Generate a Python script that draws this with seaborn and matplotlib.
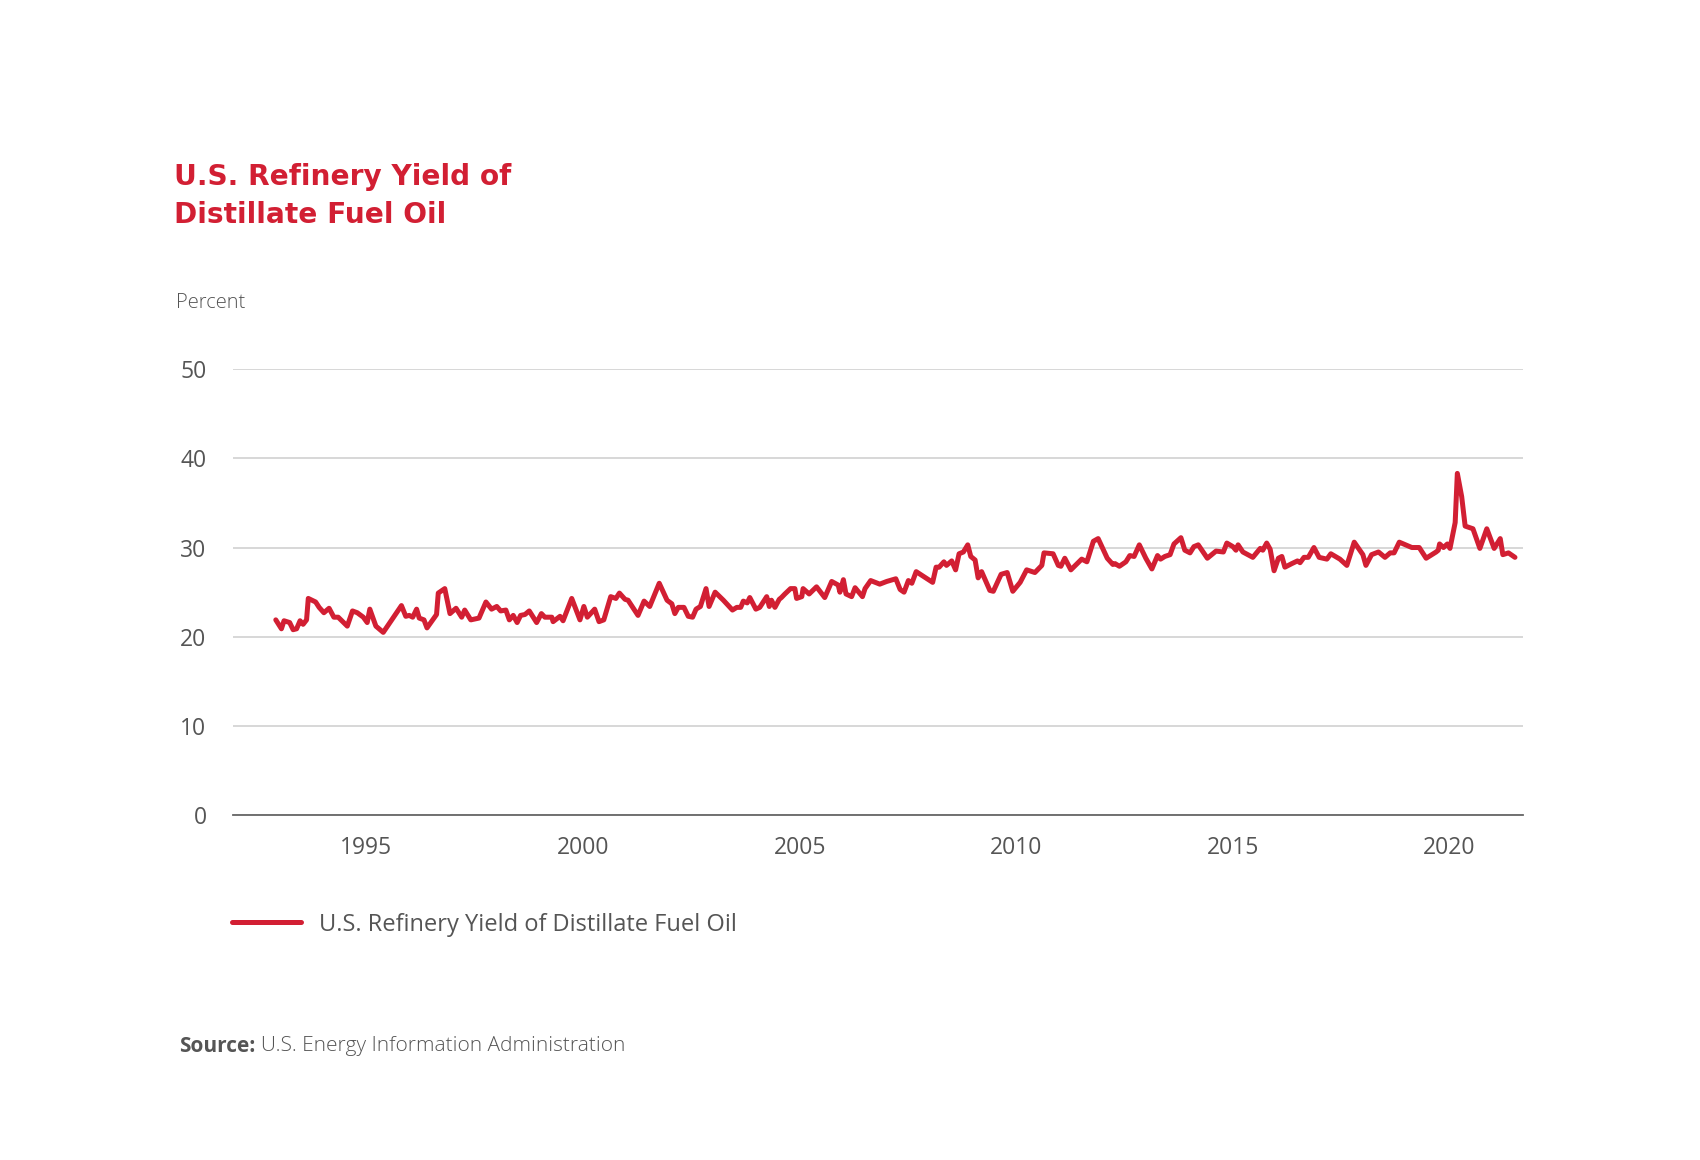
import pandas as pd
import numpy as np
import seaborn as sns
import matplotlib.pyplot as plt

# Datos (anio decimal, porcentaje)
years = [
    1992.91, 1993.04, 1993.10, 1993.23, 1993.31, 1993.39, 1993.47, 1993.54, 1993.62, 1993.66,
    1993.83, 1993.91, 1994.02, 1994.14, 1994.25, 1994.35, 1994.56, 1994.68, 1994.79, 1994.93,
    1995.02, 1995.08, 1995.22, 1995.39, 1995.81, 1995.91, 1995.99, 1996.07, 1996.16, 1996.22,
    1996.33, 1996.40, 1996.62, 1996.66, 1996.81, 1996.93, 1997.07, 1997.20, 1997.27, 1997.41,
    1997.60, 1997.76, 1997.89, 1998.01, 1998.10, 1998.22, 1998.30, 1998.39, 1998.48, 1998.56,
    1998.66, 1998.76, 1998.93, 1999.04, 1999.12, 1999.28, 1999.31, 1999.47, 1999.54, 1999.74,
    1999.93, 2000.02, 2000.10, 2000.27, 2000.37, 2000.48, 2000.64, 2000.76, 2000.84, 2000.97,
    2001.04, 2001.27, 2001.41, 2001.54, 2001.76, 2001.94, 2002.05, 2002.12, 2002.20, 2002.33,
    2002.43, 2002.53, 2002.61, 2002.71, 2002.84, 2002.91, 2003.05, 2003.24, 2003.45, 2003.55,
    2003.64, 2003.70, 2003.79, 2003.85, 2003.99, 2004.08, 2004.24, 2004.30, 2004.35, 2004.43,
    2004.53, 2004.58, 2004.66, 2004.79, 2004.89, 2004.93, 2005.05, 2005.08, 2005.22, 2005.39,
    2005.58, 2005.74, 2005.89, 2005.93, 2006.01, 2006.07, 2006.20, 2006.28, 2006.45, 2006.51,
    2006.64, 2006.85, 2007.01, 2007.22, 2007.32, 2007.41, 2007.51, 2007.59, 2007.69, 2008.07,
    2008.15, 2008.22, 2008.33, 2008.39, 2008.51, 2008.60, 2008.68, 2008.78, 2008.88, 2008.95,
    2009.05, 2009.12, 2009.20, 2009.39, 2009.47, 2009.65, 2009.79, 2009.92, 2010.09, 2010.24,
    2010.43, 2010.59, 2010.64, 2010.85, 2010.97, 2011.03, 2011.12, 2011.26, 2011.51, 2011.63,
    2011.78, 2011.89, 2012.10, 2012.23, 2012.28, 2012.38, 2012.53, 2012.62, 2012.72, 2012.84,
    2012.99, 2013.13, 2013.26, 2013.33, 2013.43, 2013.55, 2013.64, 2013.80, 2013.89, 2014.01,
    2014.10, 2014.20, 2014.41, 2014.61, 2014.78, 2014.86, 2015.00, 2015.07, 2015.12, 2015.23,
    2015.46, 2015.63, 2015.69, 2015.78, 2015.86, 2015.95, 2016.05, 2016.13, 2016.20, 2016.36,
    2016.49, 2016.55, 2016.64, 2016.74, 2016.87, 2016.99, 2017.17, 2017.26, 2017.40, 2017.47,
    2017.63, 2017.80, 2018.00, 2018.07, 2018.20, 2018.36, 2018.51, 2018.63, 2018.72, 2018.84,
    2019.13, 2019.30, 2019.46, 2019.69, 2019.74, 2019.77, 2019.86, 2019.95, 2020.01, 2020.13,
    2020.18, 2020.28, 2020.36, 2020.54, 2020.70, 2020.86, 2021.03, 2021.17, 2021.23, 2021.36,
    2021.51,
]
yield_pct = [
    21.9, 20.9, 21.8, 21.6, 20.8, 20.9, 21.8, 21.4, 21.9, 24.3,
    23.9, 23.3, 22.7, 23.2, 22.2, 22.2, 21.2, 22.9, 22.7, 22.2,
    21.6, 23.1, 21.2, 20.5, 23.5, 22.3, 22.4, 22.2, 23.1, 22.1,
    21.9, 21.0, 22.5, 24.9, 25.4, 22.6, 23.2, 22.2, 23.0, 21.9,
    22.1, 23.9, 23.1, 23.4, 22.9, 23.0, 21.9, 22.4, 21.6, 22.4,
    22.5, 22.9, 21.6, 22.6, 22.2, 22.2, 21.7, 22.3, 21.8, 24.3,
    21.9, 23.4, 22.2, 23.1, 21.7, 21.9, 24.5, 24.3, 24.9, 24.2,
    24.1, 22.4, 24.0, 23.4, 26.0, 24.1, 23.7, 22.6, 23.3, 23.3,
    22.3, 22.2, 23.1, 23.4, 25.4, 23.4, 25.0, 24.1, 23.0, 23.3,
    23.3, 24.0, 23.8, 24.4, 23.1, 23.3, 24.5, 23.4, 24.1, 23.3,
    24.2, 24.4, 24.8, 25.4, 25.4, 24.3, 24.5, 25.4, 24.8, 25.6,
    24.4, 26.2, 25.8, 25.0, 26.4, 24.8, 24.5, 25.5, 24.5, 25.4,
    26.3, 25.9, 26.2, 26.5, 25.3, 25.0, 26.3, 26.0, 27.3, 26.1,
    27.8, 27.8, 28.4, 28.0, 28.5, 27.5, 29.3, 29.5, 30.3, 29.0,
    28.6, 26.6, 27.3, 25.2, 25.1, 27.0, 27.2, 25.1, 26.1, 27.5,
    27.2, 28.0, 29.4, 29.3, 28.0, 27.9, 28.8, 27.5, 28.7, 28.4,
    30.7, 31.0, 28.8, 28.1, 28.2, 27.9, 28.4, 29.1, 29.0, 30.3,
    28.8, 27.6, 29.1, 28.7, 29.0, 29.2, 30.4, 31.1, 29.7, 29.4,
    30.1, 30.3, 28.8, 29.6, 29.5, 30.5, 30.1, 29.7, 30.3, 29.5,
    28.9, 29.9, 29.7, 30.5, 29.8, 27.4, 28.8, 29.0, 27.8, 28.2,
    28.5, 28.3, 28.9, 28.9, 30.0, 28.9, 28.7, 29.3, 28.9, 28.7,
    28.0, 30.6, 29.2, 28.0, 29.2, 29.5, 28.9, 29.4, 29.4, 30.6,
    30.0, 30.0, 28.8, 29.5, 29.7, 30.4, 30.0, 30.4, 29.9, 32.8,
    38.3, 35.7, 32.4, 32.1, 29.9, 32.1, 29.9, 31.0, 29.2, 29.4,
    28.9,
]
x_ticks = [1995, 2000, 2005, 2010, 2015, 2020]
y_ticks = [0, 10, 20, 30, 40, 50]

serie = 'U.S. Refinery Yield of Distillate Fuel Oil'
df = pd.DataFrame({'year': years, 'pct': yield_pct})

ROJO = '#d21f33'
GRIS = '#555555'

sns.set_style('white')
plt.rcParams['font.family'] = ['Open Sans', 'DejaVu Sans']

fig = plt.figure(figsize=(17, 11.6), dpi=100)
ax = fig.add_axes([0.137, 0.297, 0.759, 0.385])

sns.lineplot(data=df, x='year', y='pct', ax=ax, color=ROJO, linewidth=3.6,
             label=serie, solid_joinstyle='round')

ax.set_xlim(1991.92, 2021.70)
ax.set_ylim(0, 50)
ax.set_xticks(x_ticks)
ax.set_yticks(y_ticks)
ax.grid(axis='y', color='#d4d4d4', linewidth=1.3)
ax.set_axisbelow(True)
for s in ['top', 'right', 'left']:
    ax.spines[s].set_visible(False)
ax.spines['bottom'].set_color('#666666')
ax.spines['bottom'].set_linewidth(1.3)
ax.tick_params(axis='both', length=0, labelsize=16.5, labelcolor=GRIS)
ax.tick_params(axis='y', pad=19)
ax.tick_params(axis='x', pad=15)
ax.set_xlabel('')
ax.set_ylabel('')

# Titulo (dos lineas)
titulo = dict(color=ROJO, fontsize=20.2, fontweight='bold', va='baseline', ha='left',
              family='DejaVu Sans')
fig.text(0.1025, 1 - 185 / 1160, 'U.S. Refinery Yield of', **titulo)
fig.text(0.1025, 1 - 223 / 1160, 'Distillate Fuel Oil', **titulo)
fig.text(0.1035, 1 - 307.5 / 1160, 'Percent', color=GRIS, fontsize=14.5,
         fontweight='light', va='baseline', ha='left')

# Leyenda
ax.legend(loc='center left', bbox_to_anchor=(0.1365, 0.203), bbox_transform=fig.transFigure,
          frameon=False, fontsize=17, labelcolor=GRIS, handlelength=2.9,
          handletextpad=0.78, borderaxespad=0, borderpad=0)

# Fuente
t = fig.text(0.1055, 1 - 1051.5 / 1160, 'Source:', color=GRIS, fontsize=15, fontweight='bold',
             va='baseline', ha='left')
fig.canvas.draw()
bb = t.get_window_extent().transformed(fig.transFigure.inverted())
fig.text(bb.x1 + 0.003, 1 - 1051.5 / 1160, 'U.S. Energy Information Administration', color=GRIS,
         fontsize=15, fontweight='light', va='baseline', ha='left')

fig.savefig('out.png', dpi=100)
